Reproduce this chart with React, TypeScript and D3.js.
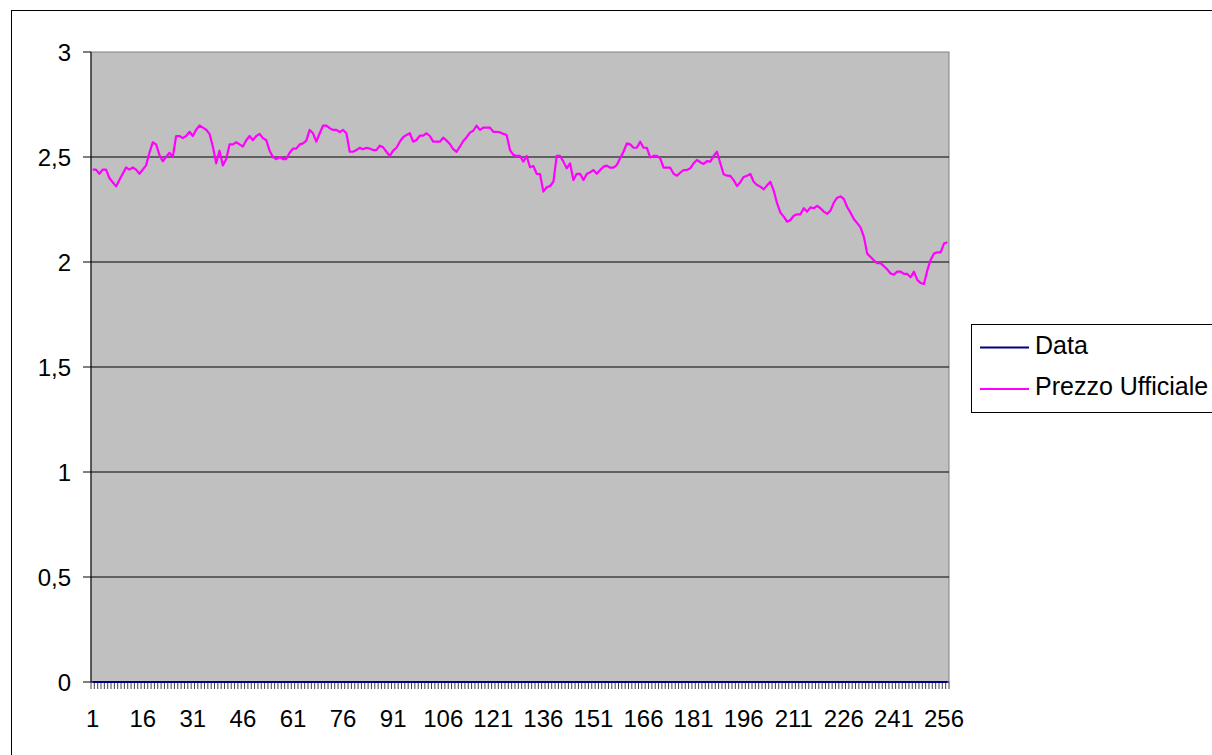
import React from "react";
import * as d3 from "d3";

// Prezzo Ufficiale, one value per session (1..257)
const prezzoUfficiale = [
  2.44, 2.44, 2.42, 2.44, 2.44, 2.4, 2.38, 2.36, 2.39, 2.42,
  2.45, 2.44, 2.45, 2.44, 2.42, 2.44, 2.46, 2.52, 2.57, 2.56,
  2.51, 2.48, 2.5, 2.52, 2.5, 2.6, 2.6, 2.59, 2.6, 2.62,
  2.6, 2.63, 2.65, 2.64, 2.63, 2.61, 2.55, 2.47, 2.53, 2.46,
  2.49, 2.56, 2.56, 2.57, 2.56, 2.55, 2.58, 2.6, 2.58, 2.6,
  2.61, 2.59, 2.58, 2.53, 2.5, 2.49, 2.5, 2.49, 2.49, 2.52,
  2.54, 2.54, 2.56, 2.565, 2.578, 2.629, 2.613, 2.573, 2.613, 2.649,
  2.649, 2.637, 2.629, 2.629, 2.618, 2.629, 2.613, 2.525, 2.525, 2.533,
  2.544, 2.537, 2.544, 2.54, 2.533, 2.533, 2.554, 2.546, 2.525, 2.505,
  2.53, 2.544, 2.573, 2.594, 2.605, 2.613, 2.573, 2.581, 2.602, 2.602,
  2.613, 2.6, 2.573, 2.573, 2.573, 2.592, 2.578, 2.562, 2.537, 2.525,
  2.549, 2.576, 2.594, 2.616, 2.625, 2.649, 2.629, 2.64, 2.64, 2.64,
  2.62, 2.62, 2.618, 2.61, 2.605, 2.533, 2.51, 2.505, 2.505, 2.478,
  2.505, 2.451, 2.457, 2.42, 2.419, 2.335, 2.356, 2.362, 2.382, 2.505,
  2.505, 2.478, 2.446, 2.47, 2.39, 2.42, 2.42, 2.39, 2.419, 2.427,
  2.438, 2.42, 2.438, 2.454, 2.459, 2.449, 2.449, 2.462, 2.494, 2.525,
  2.565, 2.56, 2.544, 2.544, 2.573, 2.544, 2.544, 2.498, 2.505, 2.505,
  2.494, 2.449, 2.449, 2.449, 2.42, 2.411, 2.425, 2.438, 2.438, 2.446,
  2.47, 2.486, 2.475, 2.467, 2.48, 2.478, 2.505, 2.525, 2.47, 2.418,
  2.411, 2.41, 2.39, 2.362, 2.38, 2.405, 2.411, 2.419, 2.382, 2.367,
  2.359, 2.346, 2.365, 2.382, 2.34, 2.28, 2.235, 2.216, 2.192, 2.2,
  2.22, 2.227, 2.227, 2.256, 2.24, 2.26, 2.256, 2.267, 2.256, 2.24,
  2.229, 2.245, 2.283, 2.306, 2.312, 2.3, 2.262, 2.235, 2.205, 2.185,
  2.165, 2.12, 2.04, 2.024, 2.008, 1.995, 1.994, 1.98, 1.965, 1.945,
  1.94, 1.954, 1.954, 1.943, 1.943, 1.927, 1.954, 1.915, 1.9, 1.895,
  1.96, 2.01, 2.04, 2.046, 2.046, 2.088, 2.094,
];

// "Data" series sits on zero for every session
const dataSerie = [
  0, 0, 0, 0, 0, 0, 0, 0, 0, 0, 0, 0, 0, 0, 0, 0, 0, 0, 0, 0, 0, 0, 0, 0, 0, 0, 0, 0, 0, 0, 0, 0,
  0, 0, 0, 0, 0, 0, 0, 0, 0, 0, 0, 0, 0, 0, 0, 0, 0, 0, 0, 0, 0, 0, 0, 0, 0, 0, 0, 0, 0, 0, 0, 0,
  0, 0, 0, 0, 0, 0, 0, 0, 0, 0, 0, 0, 0, 0, 0, 0, 0, 0, 0, 0, 0, 0, 0, 0, 0, 0, 0, 0, 0, 0, 0, 0,
  0, 0, 0, 0, 0, 0, 0, 0, 0, 0, 0, 0, 0, 0, 0, 0, 0, 0, 0, 0, 0, 0, 0, 0, 0, 0, 0, 0, 0, 0, 0, 0,
  0, 0, 0, 0, 0, 0, 0, 0, 0, 0, 0, 0, 0, 0, 0, 0, 0, 0, 0, 0, 0, 0, 0, 0, 0, 0, 0, 0, 0, 0, 0, 0,
  0, 0, 0, 0, 0, 0, 0, 0, 0, 0, 0, 0, 0, 0, 0, 0, 0, 0, 0, 0, 0, 0, 0, 0, 0, 0, 0, 0, 0, 0, 0, 0,
  0, 0, 0, 0, 0, 0, 0, 0, 0, 0, 0, 0, 0, 0, 0, 0, 0, 0, 0, 0, 0, 0, 0, 0, 0, 0, 0, 0, 0, 0, 0, 0,
  0, 0, 0, 0, 0, 0, 0, 0, 0, 0, 0, 0, 0, 0, 0, 0, 0, 0, 0, 0, 0, 0, 0, 0, 0, 0, 0, 0, 0, 0, 0, 0,
  0,
];

const xTickLabels = [1, 16, 31, 46, 61, 76, 91, 106, 121, 136, 151, 166, 181, 196, 211, 226, 241, 256];
const yTicks = [0, 0.5, 1, 1.5, 2, 2.5, 3];
const seriesNames = ["Data", "Prezzo Ufficiale"];
const seriesColors = ["#000080", "#FF00FF"];

const categories = prezzoUfficiale.map((_, i) => i + 1);

const WIDTH = 1212;
const HEIGHT = 755;
const PLOT = { left: 91, right: 949, top: 52, bottom: 682 };
const FONT = "'Liberation Sans', Arial, sans-serif";

const App = () => {
  const xScale = d3
    .scaleBand<number>()
    .domain(categories)
    .range([PLOT.left, PLOT.right])
    .padding(0);
  const bw = xScale.bandwidth();
  const cx = (c: number) => (xScale(c) as number) + bw / 2;

  const yScale = d3.scaleLinear().domain([0, 3]).range([PLOT.bottom, PLOT.top]);

  const lineGen = d3
    .line<number>()
    .x((_, i) => cx(categories[i]))
    .y((d) => yScale(d));

  const fmt = (v: number) => String(v).replace(".", ",");

  // category boundaries -> the small ticks under the x axis
  const boundaries = categories.map((c) => xScale(c) as number).concat([PLOT.right]);

  const legendY = [347.5, 389];

  return (
    <svg
      width={WIDTH}
      height={HEIGHT}
      style={{ position: "absolute", left: 0, top: 0, background: "#fff" }}
      fontFamily={FONT}
      fontSize={24}
    >
      {/* chart border */}
      <rect x={11.5} y={10.5} width={1400} height={900} fill="#fff" stroke="#000" strokeWidth={1} />

      {/* plot area */}
      <rect
        x={PLOT.left}
        y={PLOT.top}
        width={PLOT.right - PLOT.left}
        height={PLOT.bottom - PLOT.top}
        fill="#C0C0C0"
        stroke="#808080"
        strokeWidth={1}
      />

      {/* gridlines */}
      {yTicks.slice(1, -1).map((t) => (
        <line key={t} x1={PLOT.left} x2={PLOT.right} y1={yScale(t)} y2={yScale(t)} stroke="#000" strokeWidth={1} />
      ))}

      {/* y axis */}
      <line x1={PLOT.left} x2={PLOT.left} y1={PLOT.top} y2={PLOT.bottom} stroke="#000" strokeWidth={1} />
      {yTicks.map((t) => (
        <g key={t}>
          <line x1={PLOT.left - 8} x2={PLOT.left} y1={yScale(t)} y2={yScale(t)} stroke="#000" strokeWidth={1} />
          <text x={71} y={yScale(t) + 8.5} textAnchor="end" fill="#000">
            {fmt(t)}
          </text>
        </g>
      ))}

      {/* x axis */}
      <line x1={PLOT.left} x2={PLOT.right} y1={PLOT.bottom} y2={PLOT.bottom} stroke="#000" strokeWidth={1} />
      {boundaries.map((b, i) => (
        <line key={i} x1={b} x2={b} y1={PLOT.bottom} y2={PLOT.bottom + 7} stroke="#444" strokeWidth={1} />
      ))}
      {xTickLabels.map((c) => (
        <text key={c} x={cx(c)} y={727} textAnchor="middle" fill="#000">
          {c}
        </text>
      ))}

      {/* series */}
      <path d={lineGen(dataSerie) || ""} fill="none" stroke={seriesColors[0]} strokeWidth={2} />
      <path
        d={lineGen(prezzoUfficiale) || ""}
        fill="none"
        stroke={seriesColors[1]}
        strokeWidth={2.2}
        strokeLinejoin="round"
      />

      {/* legend */}
      <rect x={971.5} y={324.5} width={400} height={88} fill="#fff" stroke="#000" strokeWidth={1} />
      {seriesNames.map((name, i) => (
        <g key={name}>
          <line x1={980} x2={1029} y1={legendY[i]} y2={legendY[i]} stroke={seriesColors[i]} strokeWidth={2} />
          <text x={1035} y={legendY[i] + 6} fill="#000" fontSize={25}>
            {name}
          </text>
        </g>
      ))}
    </svg>
  );
};

export default App;
